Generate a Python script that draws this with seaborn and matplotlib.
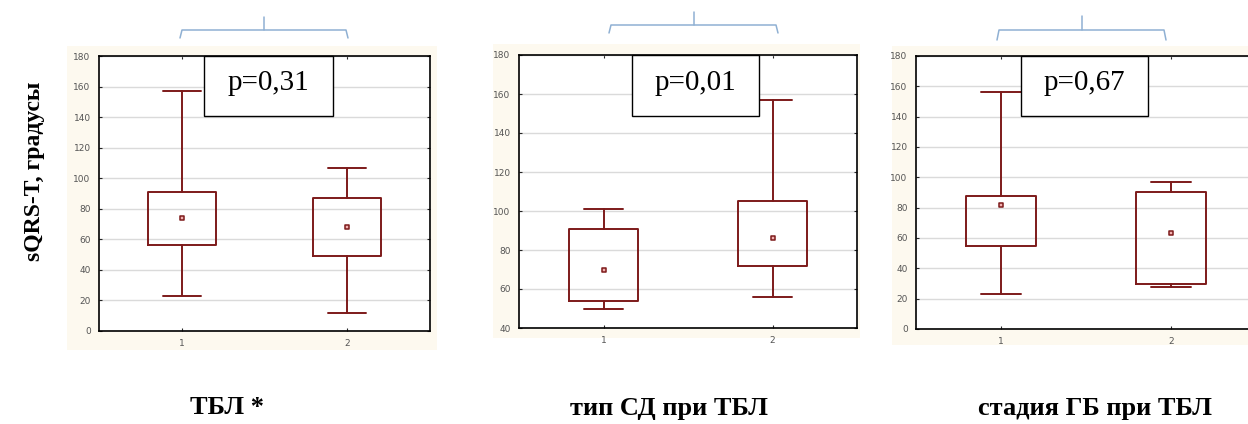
import numpy as np
import pandas as pd
import matplotlib
matplotlib.use("Agg")
import matplotlib.pyplot as plt
import seaborn as sns
from matplotlib.patches import Rectangle
from matplotlib.lines import Line2D

# Данные по трём сравнениям (группы 1 и 2)
groups = ["1", "2"]
titles = ["ТБЛ *", "тип СД при ТБЛ", "стадия ГБ при ТБЛ"]
p_values = ["p=0,31", "p=0,01", "p=0,67"]

mean_vals = [[74, 68], [70, 86], [82, 63]]
box_low = [[56, 49], [54, 72], [55, 30]]
box_high = [[91, 87], [91, 105], [88, 90]]
whisk_low = [[23, 12], [50, 56], [23, 28]]
whisk_high = [[157, 107], [101, 157], [156, 97]]
y_limits = [(0, 180), (40, 180), (0, 180)]

sns.set_style("white")
plt.rcParams['font.family'] = ['DejaVu Sans']
plt.rcParams['text.color'] = 'black'

W, H = 1248, 424
fig = plt.figure(figsize=(W / 100, H / 100), dpi=100)


def fx(x):
    return x / W


def fy(y):
    return 1 - y / H


# позиции панелей в пикселях: left, top, right, bottom
axes_px = [(99, 56, 430, 331), (519, 55, 857, 328), (916, 56, 1256, 329)]
cream_px = [(67, 46, 437, 350), (493, 44, 860, 338), (892, 46, 1248, 345)]
pbox_px = [(204, 116, 333), (632, 116, 759), (1021, 116, 1148)]
brace_px = [(180, 348, 30, 38, 17), (609, 778, 25, 33, 12), (997, 1166, 30, 40, 16)]
title_x = [227, 669, 1095]

dark_red = "#7d1a1a"
brace_col = "#8fb0d3"

for i in range(3):
    l, t, r, b = axes_px[i]
    cl, ct, cr, cb = cream_px[i]
    fig.patches.append(Rectangle((fx(cl), fy(cb)), fx(cr - cl), (cb - ct) / H,
                                 transform=fig.transFigure, facecolor="#fdf9ef",
                                 edgecolor="none", zorder=-5))
    ax = fig.add_axes([fx(l), fy(b), fx(r - l), (b - t) / H])
    ax.set_zorder(2)
    ax.set_facecolor("white")

    stats = []
    for j in range(2):
        stats.append(dict(med=mean_vals[i][j], q1=box_low[i][j], q3=box_high[i][j],
                          whislo=whisk_low[i][j], whishi=whisk_high[i][j], fliers=[]))
    line = dict(color=dark_red, linewidth=1.4)
    ax.bxp(stats, positions=[1, 2], widths=0.41, capwidths=0.23, showfliers=False,
           boxprops=line, whiskerprops=line, capprops=line,
           medianprops=dict(linewidth=0))

    df = pd.DataFrame({"x": [1, 2], "y": mean_vals[i]})
    sns.scatterplot(data=df, x="x", y="y", marker="s", s=12, color="#f2b0b0",
                    edgecolor=dark_red, linewidth=1.1, ax=ax, zorder=5)

    lo, hi = y_limits[i]
    ax.set_xlim(0.5, 2.5)
    ax.set_ylim(lo, hi)
    ax.set_yticks(np.arange(lo, hi + 1, 20))
    ax.set_xticks([1, 2])
    ax.set_xticklabels(groups)
    ax.set_xlabel("")
    ax.set_ylabel("")
    ax.yaxis.grid(True, color="#dadada", linewidth=1.0)
    ax.set_axisbelow(True)
    ax.tick_params(direction="in", length=2.5, width=0.8, labelsize=6.5,
                   labelcolor="#555555", left=True, right=True, top=True, bottom=True,
                   pad=6)
    for sp in ax.spines.values():
        sp.set_color("black")
        sp.set_linewidth(1.2)

    # рамка с p-значением
    px0, pyb, px1 = pbox_px[i]
    x0 = (px0 - l) / (r - l)
    x1 = (px1 - l) / (r - l)
    y0 = (b - pyb) / (b - t)
    ax.add_patch(Rectangle((x0, y0), x1 - x0, 1 - y0, transform=ax.transAxes,
                           facecolor="white", edgecolor="black", linewidth=1.0,
                           zorder=10, clip_on=False))
    ax.text((x0 + x1) / 2, (y0 + 1) / 2 + 0.01, p_values[i], transform=ax.transAxes,
            ha="center", va="center", fontsize=21, family="Liberation Serif", zorder=11)

    # фигурная скобка сверху
    bx0, bx1, by, bend, btop = brace_px[i]
    bc = (bx0 + bx1) / 2
    fig.add_artist(Line2D([fx(bx0), fx(bx0 + 2), fx(bx1 - 2), fx(bx1)],
                          [fy(bend), fy(by), fy(by), fy(bend)],
                          transform=fig.transFigure, color=brace_col, linewidth=1.1))
    fig.add_artist(Line2D([fx(bc), fx(bc)], [fy(by), fy(btop)],
                          transform=fig.transFigure, color=brace_col, linewidth=1.1))

    fig.text(fx(title_x[i]), fy(408), titles[i], ha="center", va="center",
             fontsize=19, fontweight="bold", family="Liberation Serif")

fig.text(fx(35), fy(171), "sQRS-T, градусы", rotation=90, ha="center", va="center",
         fontsize=17, fontweight="bold", family="Liberation Serif")

fig.savefig("out.png", dpi=100, facecolor="white")
